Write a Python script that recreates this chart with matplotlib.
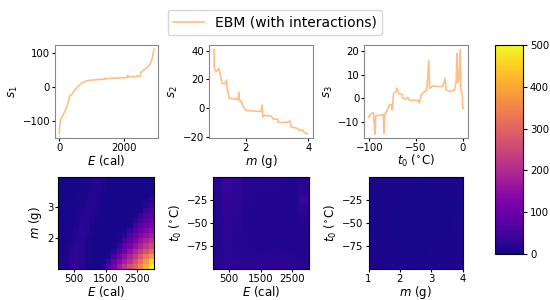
import numpy as np
import matplotlib.pyplot as plt

## ------------------
## Data
## ------------------
E_vals = [0, 15, 30, 60, 100, 150, 200, 250, 290, 310, 350, 400, 450, 480, 520, 560,
          620, 680, 750, 820, 900, 1000, 1100, 1200, 1300, 1420, 1440, 1460, 1600, 1800,
          2000, 2100, 2120, 2140, 2300, 2450, 2500, 2530, 2600, 2650, 2700, 2750, 2800,
          2850, 2880, 2910, 2930]
s1_vals = [-135, -115, -100, -92, -85, -75, -65, -55, -40, -28, -24, -20, -12, -10, -5, 0,
           5, 10, 14, 17, 19, 20, 21, 22, 22, 23, 27, 24, 25, 26,
           27, 28, 34, 29, 30, 32, 32, 42, 48, 52, 56, 60, 65,
           75, 85, 100, 110]

m_vals = [0.99, 1.0, 1.06, 1.15, 1.18, 1.25, 1.34, 1.39, 1.41, 1.48, 1.76, 1.78, 1.81, 1.86,
          1.92, 2.02, 2.5, 2.53, 2.55, 2.6, 2.81, 2.88, 3.02, 3.04, 3.28, 3.42, 3.46, 3.65,
          3.71, 3.84, 3.87, 3.97]
s2_vals = [41, 27.7, 25.3, 27.7, 24.2, 17.3, 17, 19.6, 13.8, 6.9, 6, 11, 5, 5,
           1.1, -1.7, -2.3, 2, -6.2, -5, -5.5, -7.6, -7.6, -9.9, -10, -9, -13.2, -14,
           -15.5, -15.5, -17, -17.8]

t0_vals = [-101, -98.5, -95.7, -94.6, -94, -93.2, -85, -84.4, -83.6, -81.5, -78, -76.5,
           -75.6, -74, -71.3, -70.5, -68.4, -64.8, -64.2, -60.6, -58.8, -57, -48, -46.3,
           -44.5, -40.9, -38.4, -36.3, -35.5, -32, -24.8, -21.3, -18.8, -17.7, -14.1,
           -8.7, -7, -6.2, -5.5, -4.1, -2.7, -2, -0.5, 0.2]
s3_vals = [-8.1, -6.7, -6.1, -11.8, -15.3, -7.5, -7, -15, -7, -5.5, -2.6, -2.8,
           -5, 2.1, 2.8, 4.3, 2, 1.5, 0, -0.4, 0.3, -0.9, -0.9, -2.0,
           1.4, 2.8, 3.5, 16, 4.2, 5.2, 4.9, 5, 8.5, 3.5, 2.8,
           3.5, 7.1, 19, 6.7, 7.8, 20.8, 3.5, 1.4, -4.3]

## interaction maps, rows from bottom to top
E_m_grid = [
    [10, 14, 34, 36, 26, 12, 8, 6, 20, 70, 120, 170, 220, 260, 300, 350, 420, 500],
    [10, 13, 32, 34, 24, 12, 8, 6, 8, 35, 90, 140, 180, 220, 270, 320, 380, 460],
    [9, 12, 28, 32, 24, 12, 8, 6, 6, 12, 55, 100, 150, 190, 230, 280, 330, 380],
    [9, 10, 20, 28, 25, 12, 8, 6, 6, 8, 25, 70, 115, 155, 195, 230, 270, 310],
    [8, 10, 18, 26, 25, 13, 8, 6, 6, 6, 10, 40, 85, 120, 155, 190, 225, 255],
    [8, 9, 15, 23, 25, 15, 8, 6, 6, 6, 6, 12, 50, 90, 125, 160, 185, 210],
    [8, 8, 12, 20, 26, 20, 10, 6, 6, 6, 6, 8, 25, 65, 100, 130, 155, 175],
    [8, 8, 10, 18, 26, 22, 10, 6, 6, 6, 6, 6, 10, 40, 75, 105, 130, 150],
    [8, 8, 10, 15, 24, 22, 12, 6, 6, 6, 6, 6, 6, 14, 50, 80, 105, 125],
    [8, 8, 9, 12, 20, 24, 16, 8, 6, 6, 6, 6, 6, 8, 25, 55, 80, 105],
    [8, 8, 8, 11, 18, 24, 18, 8, 6, 6, 6, 6, 6, 6, 10, 35, 65, 90],
    [8, 8, 8, 10, 16, 22, 20, 10, 6, 6, 6, 6, 6, 6, 6, 14, 40, 72],
    [7, 7, 8, 9, 12, 20, 22, 12, 6, 6, 6, 6, 6, 6, 6, 8, 20, 50],
    [7, 7, 7, 8, 11, 18, 22, 14, 7, 6, 6, 6, 6, 6, 6, 6, 10, 30],
    [7, 7, 7, 8, 10, 15, 21, 16, 8, 6, 6, 6, 6, 6, 6, 6, 6, 13],
    [7, 7, 7, 7, 9, 12, 18, 20, 10, 6, 6, 6, 6, 6, 6, 6, 6, 8],
    [7, 7, 7, 7, 8, 11, 16, 20, 11, 6, 6, 6, 6, 6, 6, 6, 6, 6],
    [7, 7, 7, 7, 8, 10, 15, 20, 12, 7, 6, 6, 6, 6, 6, 6, 6, 6],
]
E_t0_grid = [
    [25, 28, 30, 28, 26, 28, 30, 28, 26, 24],
    [20, 26, 24, 20, 18, 20, 22, 20, 18, 18],
    [18, 26, 22, 18, 16, 16, 18, 16, 16, 16],
    [18, 28, 22, 18, 16, 16, 16, 16, 16, 16],
    [18, 28, 24, 18, 16, 16, 16, 16, 16, 18],
    [20, 30, 24, 18, 16, 16, 16, 16, 16, 20],
    [20, 32, 26, 18, 16, 16, 16, 16, 18, 26],
    [22, 34, 28, 20, 18, 16, 16, 16, 18, 38],
    [24, 38, 30, 20, 18, 18, 18, 16, 18, 26],
    [26, 40, 32, 22, 20, 18, 18, 18, 18, 22],
]
m_t0_grid = [
    [12, 12, 11, 10, 10, 11, 12, 13],
    [10, 11, 10, 9, 9, 10, 11, 11],
    [9, 10, 9, 8, 8, 9, 10, 10],
    [9, 10, 9, 8, 8, 9, 9, 10],
    [9, 10, 9, 8, 8, 9, 9, 10],
    [9, 10, 9, 8, 8, 9, 9, 9],
    [10, 11, 10, 9, 9, 9, 10, 10],
    [10, 12, 11, 10, 9, 10, 10, 10],
]

E_range = [0, 3050]
m_range = [1.0, 3.95]
t0_range = [-100, 0]

## ------------------
## Plotting
## ------------------
line_kw = dict(color="tab:orange", alpha=0.5, lw=1.2)
tick_fs = 7.3
label_fs = 8.5

fig = plt.figure(figsize=(5.5, 3), dpi=100)

## top row: shape functions
ax1 = fig.add_axes([0.100, 0.540, 0.187, 0.310])
ax2 = fig.add_axes([0.3805, 0.540, 0.188, 0.310])
ax3 = fig.add_axes([0.6624, 0.540, 0.188, 0.310])

ax1.plot(E_vals, s1_vals, label="EBM (with interactions)", **line_kw)
ax1.set_xlim(-130, 3050)
ax1.set_ylim(-148, 122)
ax1.set_xticks([0, 2000])
ax1.set_yticks([-100, 0, 100])
ax1.set_xlabel("$E$ (cal)", fontsize=label_fs, labelpad=0)
ax1.set_ylabel("$s_1$", fontsize=label_fs, labelpad=2)

ax2.plot(m_vals, s2_vals, **line_kw)
ax2.set_xlim(0.84, 4.14)
ax2.set_ylim(-20.8, 44)
ax2.set_xticks([2, 4])
ax2.set_yticks([-20, 0, 20, 40])
ax2.set_xlabel("$m$ (g)", fontsize=label_fs, labelpad=0)
ax2.set_ylabel("$s_2$", fontsize=label_fs, labelpad=2)

ax3.plot(t0_vals, s3_vals, **line_kw)
ax3.set_xlim(-105.4, 5.4)
ax3.set_ylim(-16.9, 22.6)
ax3.set_xticks([-100, -50, 0])
ax3.set_yticks([-10, 0, 10, 20])
ax3.set_xlabel("$t_0$ ($^{\\circ}$C)", fontsize=label_fs, labelpad=0)
ax3.set_ylabel("$s_3$", fontsize=label_fs, labelpad=2)

## bottom row: pairwise interactions
ax4 = fig.add_axes([0.106, 0.104, 0.1745, 0.306])
ax5 = fig.add_axes([0.388, 0.104, 0.1745, 0.306])
ax6 = fig.add_axes([0.670, 0.104, 0.1710, 0.306])

img_kw = dict(cmap="plasma", vmin=0, vmax=500, origin="lower",
              aspect="auto", interpolation="nearest")
im = ax4.imshow(np.array(E_m_grid), extent=E_range + m_range, **img_kw)
ax4.set_xticks([500, 1500, 2500])
ax4.set_yticks([2, 3])
ax4.set_xlabel("$E$ (cal)", fontsize=label_fs, labelpad=0)
ax4.set_ylabel("$m$ (g)", fontsize=label_fs, labelpad=2)

ax5.imshow(np.array(E_t0_grid), extent=E_range + t0_range, **img_kw)
ax5.set_xticks([500, 1500, 2500])
ax5.set_yticks([-75, -50, -25])
ax5.set_xlabel("$E$ (cal)", fontsize=label_fs, labelpad=0)
ax5.set_ylabel("$t_0$ ($^{\\circ}$C)", fontsize=label_fs, labelpad=2)

ax6.imshow(np.array(m_t0_grid), extent=[1, 4] + t0_range, **img_kw)
ax6.set_xticks([1, 2, 3, 4])
ax6.set_yticks([-75, -50, -25])
ax6.set_xlabel("$m$ (g)", fontsize=label_fs, labelpad=0)
ax6.set_ylabel("$t_0$ ($^{\\circ}$C)", fontsize=label_fs, labelpad=2)

for ax in [ax1, ax2, ax3, ax4, ax5, ax6]:
    ax.tick_params(labelsize=tick_fs, pad=1, length=2.5)
for ax in [ax1, ax2, ax3]:
    for sp in ax.spines.values():
        sp.set_color("#888888")

## colorbar
cax = fig.add_axes([0.900, 0.153, 0.051, 0.697])
cb = fig.colorbar(im, cax=cax, ticks=[0, 100, 200, 300, 400, 500])
cb.ax.tick_params(labelsize=tick_fs, pad=2, length=3)
cb.outline.set_linewidth(0.8)

fig.legend(loc="upper center", bbox_to_anchor=(0.5, 0.99), fontsize=10,
           handlelength=2.2, borderpad=0.4)

plt.savefig("out.png", dpi=100)
